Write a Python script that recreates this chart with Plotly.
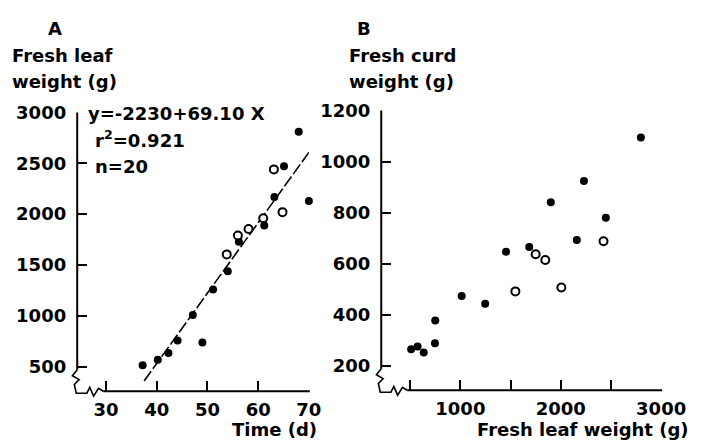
import plotly.graph_objects as go

W, H = 718, 441

# ---------------- data ----------------
# Panel A: time (d) vs fresh leaf weight (g)
a_filled_t = [37.2, 40.2, 42.3, 44.1, 47.1, 49.0, 51.1, 54.0, 56.2, 61.2, 63.2, 65.1, 68.0, 70.0]
a_filled_w = [515, 570, 635, 760, 1010, 740, 1260, 1440, 1730, 1890, 2170, 2470, 2810, 2130]
a_open_t = [53.8, 56.0, 58.1, 61.0, 63.1, 64.8]
a_open_w = [1605, 1790, 1855, 1960, 2440, 2020]
fit_intercept, fit_slope = -2230, 69.10
fit_t = [37.5, 70.8]

# Panel B: fresh leaf weight (g) vs fresh curd weight (g)
b_filled_x = [510, 574, 635, 747, 750, 1013, 1247, 1455, 1686, 1901, 2160, 2231, 2449, 2798]
b_filled_y = [266, 276, 253, 289, 378, 474, 444, 647, 666, 841, 693, 924, 780, 1094]
b_open_x = [1548, 1750, 1846, 2006, 2426]
b_open_y = [492, 637, 615, 507, 688]

a_xticks = [30, 40, 50, 60, 70]
a_yticks = [500, 1000, 1500, 2000, 2500, 3000]
b_xticks = [1000, 2000, 3000]
b_xminor = 500
b_yticks = [200, 400, 600, 800, 1000, 1200]

FONT = "DejaVu Sans"
FS = 18


def px(x):
    return x / W


def py(y):
    return 1 - y / H


fig = go.Figure()

filled = dict(mode="markers", marker=dict(size=8, color="black", symbol="circle"),
              cliponaxis=False, showlegend=False, hoverinfo="skip")
openm = dict(mode="markers", marker=dict(size=8, color="white", symbol="circle",
                                         line=dict(color="black", width=2)),
             cliponaxis=False, showlegend=False, hoverinfo="skip")

fit_w = [fit_intercept + fit_slope * t for t in fit_t]
fig.add_trace(go.Scatter(x=fit_t, y=fit_w, mode="lines",
                         line=dict(color="black", width=1.6, dash="12px,3px"),
                         showlegend=False, hoverinfo="skip", cliponaxis=False,
                         xaxis="x", yaxis="y"))
fig.add_trace(go.Scatter(x=a_filled_t, y=a_filled_w, xaxis="x", yaxis="y", **filled))
fig.add_trace(go.Scatter(x=a_open_t, y=a_open_w, xaxis="x", yaxis="y", **openm))
fig.add_trace(go.Scatter(x=b_filled_x, y=b_filled_y, xaxis="x2", yaxis="y2", **filled))
fig.add_trace(go.Scatter(x=b_open_x, y=b_open_y, xaxis="x2", yaxis="y2", **openm))

tfont = dict(family=FONT, size=FS, color="black", weight="bold")
axcommon = dict(showline=False, showgrid=False, zeroline=False, ticks="inside",
                ticklen=10, tickwidth=2, tickcolor="black",
                tickfont=tfont, fixedrange=True)

# Panel geometry (px)
A_left, A_right, A_top, A_bottom = 80, 320, 104, 390
B_left, B_right, B_top, B_bottom = 395, 685, 102, 389

fig.update_layout(
    width=W, height=H, margin=dict(l=0, r=0, t=0, b=0),
    paper_bgcolor="white", plot_bgcolor="white",
    xaxis=dict(domain=[px(A_left), px(A_right)], range=[24.3, 70], anchor="y",
               tickvals=a_xticks, ticklabelstandoff=6, **axcommon),
    yaxis=dict(domain=[py(A_bottom), py(A_top)], range=[260, 3000], anchor="x",
               tickvals=a_yticks, ticklabelstandoff=10, **axcommon),
    xaxis2=dict(domain=[px(B_left), px(B_right)], range=[212, 3000], anchor="y2",
                tickvals=b_xticks, ticklabelstandoff=6,
                minor=dict(ticks="inside", ticklen=10, tickwidth=2, tickcolor="black",
                           tick0=0, dtick=b_xminor, showgrid=False),
                **axcommon),
    yaxis2=dict(domain=[py(B_bottom), py(B_top)], range=[105, 1200], anchor="x2",
                tickvals=b_yticks, ticklabelstandoff=10, **axcommon),
)

# axis lines with break
def axis_shapes(left, right, top, bottom, xstart):
    shapes = []
    line = dict(color="black", width=2)
    shapes.append(dict(type="line", xref="paper", yref="paper",
                       x0=px(left), x1=px(left), y0=py(top), y1=py(bottom - 22), line=line))
    shapes.append(dict(type="line", xref="paper", yref="paper",
                       x0=px(xstart), x1=px(right + 1), y0=py(bottom), y1=py(bottom), line=line))
    pts = [(left, bottom - 22), (left - 5, bottom - 16), (left + 2, bottom - 12),
           (left - 3, bottom - 7), (left - 1, bottom + 2), (left + 10, bottom + 2),
           (left + 13, bottom - 4), (left + 17, bottom + 5), (left + 22, bottom - 3),
           (xstart, bottom)]
    path = "M " + " L ".join(f"{px(x)},{py(y)}" for x, y in pts)
    shapes.append(dict(type="path", xref="paper", yref="paper", path=path,
                       line=dict(color="black", width=1.6)))
    return shapes

shapes = axis_shapes(A_left, A_right, A_top, A_bottom, 107) + \
    axis_shapes(B_left, B_right, B_top, B_bottom, 422)
fig.update_layout(shapes=shapes)

def txt(s, x, y, xanchor="left", size=FS):
    fig.add_annotation(text=s, x=px(x), y=py(y), xref="paper", yref="paper",
                       xanchor=xanchor, yanchor="middle", showarrow=False,
                       font=dict(family=FONT, size=size, color="black", weight="bold"))

txt("A", 57, 18, "center")
txt("Fresh leaf", 10, 46)
txt("weight (g)", 10, 72)
txt("y=-2230+69.10 X", 89, 105)
txt("r<sup>2</sup>=0.921", 96, 131)
txt("n=20", 96, 159)
txt("Time (d)", 331, 429, "right")

txt("B", 377, 18, "center")
txt("Fresh curd", 359, 46)
txt("weight (g)", 359, 72)
txt("Fresh leaf weight (g)", 716, 429, "right")

fig.write_html("out.html")
